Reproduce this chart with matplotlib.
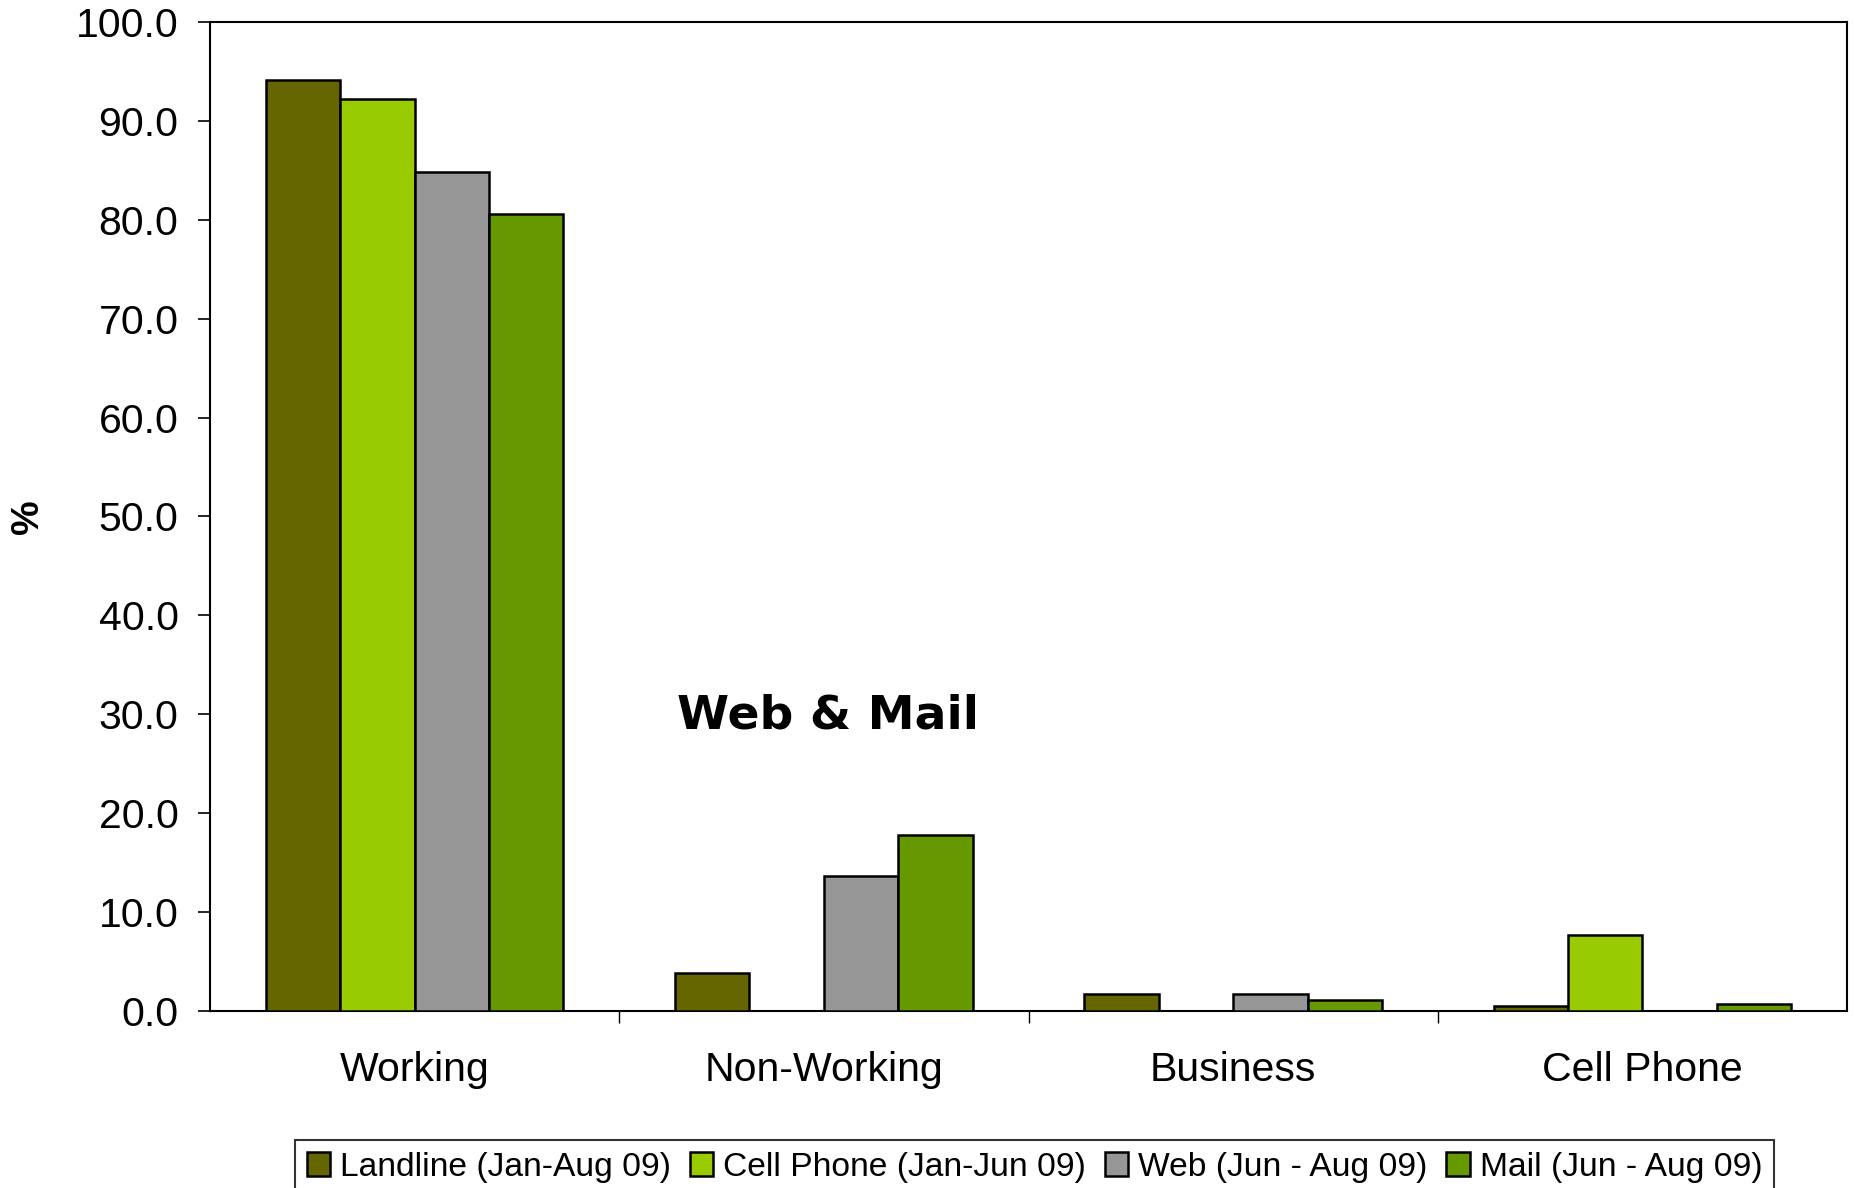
import numpy as np
import matplotlib
matplotlib.use("Agg")
import matplotlib.pyplot as plt

categories = ["Working", "Non-Working", "Business", "Cell Phone"]
series_names = ["Landline (Jan-Aug 09)", "Cell Phone (Jan-Jun 09)",
                "Web (Jun - Aug 09)", "Mail (Jun - Aug 09)"]
landline = [94.1, 3.8, 1.7, 0.5]
cell_phone = [92.2, np.nan, np.nan, 7.7]
web = [84.8, 13.6, 1.7, np.nan]
mail = [80.6, 17.8, 1.1, 0.7]
colors = ["#666600", "#99CC00", "#969696", "#669900"]
yticks = [0, 10, 20, 30, 40, 50, 60, 70, 80, 90, 100]

plt.rcParams['font.family'] = ['Liberation Sans', 'DejaVu Sans']

fig = plt.figure(figsize=(18.55, 11.88), dpi=100)
ax = fig.add_axes([0.1132, 0.149, 0.8825, 0.8325])

x = np.arange(len(categories))
w = 1 / 5.5
all_series = [landline, cell_phone, web, mail]
for i, (vals, name, c) in enumerate(zip(all_series, series_names, colors)):
    ax.bar(x + (i - 1.5) * w, vals, width=w, color=c, edgecolor="black",
           linewidth=1.8, label=name, zorder=3)

ax.set_xlim(-0.5, 3.5)
ax.set_ylim(0, 100)
ax.set_yticks(yticks)
ax.set_yticklabels([f"{v:.1f}" for v in yticks])
ax.tick_params(axis='y', labelsize=29.5, length=8.6, width=1.2, pad=14, direction='out')

ax.set_xticks(x)
ax.set_xticklabels(categories)
ax.tick_params(axis='x', which='major', labelsize=29.5, length=0, pad=29)
ax.set_xticks(np.arange(0.5, 3.5, 1.0), minor=True)
ax.tick_params(axis='x', which='minor', length=8.6, width=1.0, direction='out')

for s in ax.spines.values():
    s.set_linewidth(1.5)
    s.set_color("black")

ax.set_ylabel("%", fontsize=28, fontweight='bold')
ax.yaxis.set_label_coords(-0.1, 0.5)

ax.text(1.01, 29.8, "Web & Mail", fontsize=34, fontweight='bold',
        family=['DejaVu Sans'], ha='center', va='center')

leg = fig.legend(loc='upper center', bbox_to_anchor=(0.5577, 0.0405), ncol=4,
                 fontsize=24.2, frameon=True, fancybox=False, edgecolor='black',
                 handlelength=0.7, handleheight=0.7, handletextpad=0.3,
                 columnspacing=0.55, borderpad=0.35, borderaxespad=0)
leg.get_frame().set_linewidth(1.5)

fig.savefig("out.png", dpi=100)
